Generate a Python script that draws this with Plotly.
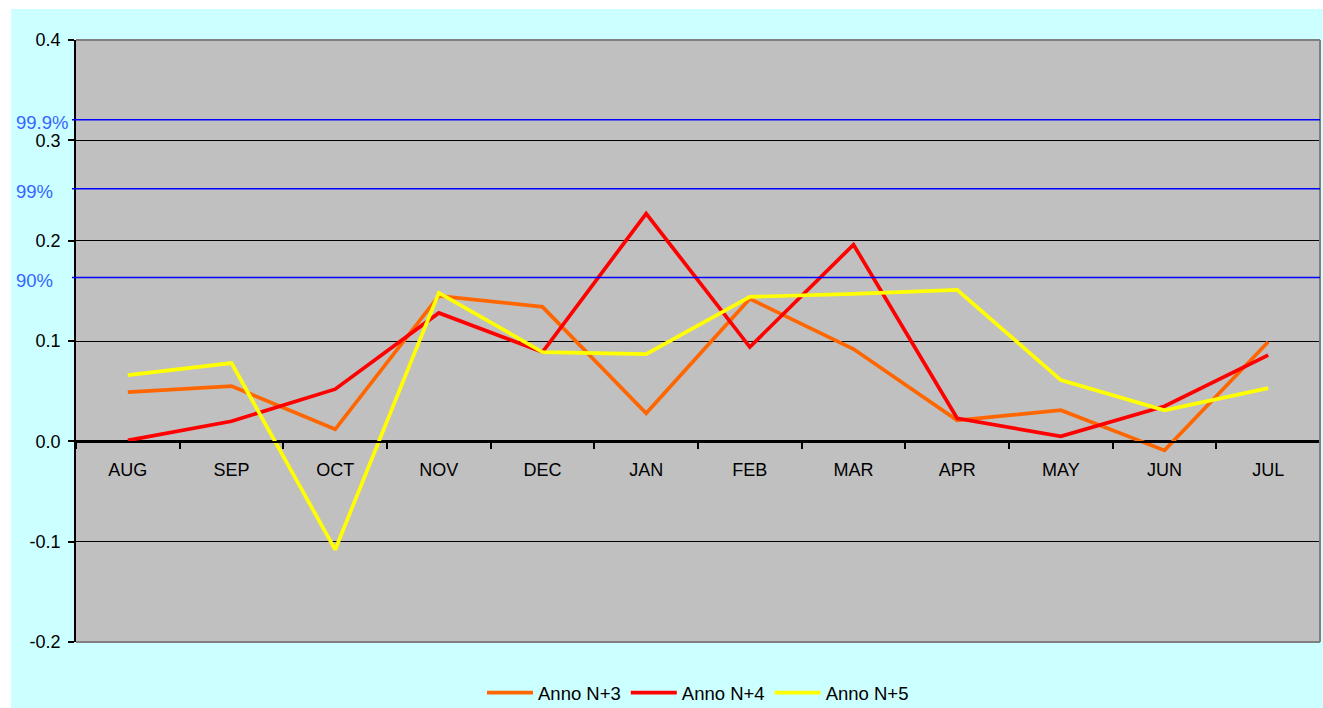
import plotly.graph_objects as go

months = ["AUG", "SEP", "OCT", "NOV", "DEC", "JAN", "FEB", "MAR", "APR", "MAY", "JUN", "JUL"]
anno_n3 = [0.049, 0.055, 0.012, 0.145, 0.134, 0.028, 0.142, 0.092, 0.021, 0.031, -0.009, 0.099]
anno_n4 = [0.001, 0.020, 0.052, 0.128, 0.089, 0.227, 0.094, 0.196, 0.023, 0.005, 0.035, 0.086]
anno_n5 = [0.066, 0.078, -0.108, 0.148, 0.089, 0.087, 0.144, 0.147, 0.151, 0.061, 0.031, 0.053]
series_names = ["Anno N+3", "Anno N+4", "Anno N+5"]
series_colors = ["#FF6600", "#FF0000", "#FFFF00"]

threshold_labels = ["99.9%", "99%", "90%"]
threshold_values = [0.3204, 0.2517, 0.1632]

y_ticks = [-0.2, -0.1, 0.0, 0.1, 0.2, 0.3, 0.4]
y_tick_labels = ["-0.2", "-0.1", "0.0", "0.1", "0.2", "0.3", "0.4"]

W, H = 1323, 708
L, R, T, B = 76, 3, 40, 66
pw, ph = W - L - R, H - T - B

def px_x(p):
    return (p - L) / pw

def px_y(p):
    return (H - B - p) / ph

FONT = "Liberation Sans, Arial, sans-serif"

fig = go.Figure()
for name, vals, col in zip(series_names, [anno_n3, anno_n4, anno_n5], series_colors):
    fig.add_trace(go.Scatter(x=months, y=vals, mode="lines", name=name,
                             line=dict(color=col, width=3.7)))

shapes = [
    # white page margins
    dict(type="rect", xref="paper", yref="paper", x0=px_x(-2), x1=px_x(11), y0=px_y(H + 2), y1=px_y(-2),
         fillcolor="white", line=dict(width=0), layer="below"),
    dict(type="rect", xref="paper", yref="paper", x0=px_x(-2), x1=px_x(W + 2), y0=px_y(9), y1=px_y(-2),
         fillcolor="white", line=dict(width=0), layer="below"),
]
# plot border (top, right, bottom)
for (x0, y0, x1, y1) in [(0, 1, 1, 1), (1, 0, 1, 1), (0, 0, 1, 0)]:
    shapes.append(dict(type="line", xref="paper", yref="paper", x0=x0, y0=y0, x1=x1, y1=y1,
                       line=dict(color="#7F7F7F", width=2), layer="above"))
# threshold lines
for v in threshold_values:
    shapes.append(dict(type="line", xref="paper", yref="y", x0=px_x(72), x1=1, y0=v, y1=v,
                       line=dict(color="#0000FF", width=1.5), layer="above"))

annotations = []
for lab, v in zip(threshold_labels, threshold_values):
    annotations.append(dict(xref="paper", yref="y", x=px_x(14), y=v, text=lab, showarrow=False,
                            xanchor="left", yanchor="middle", yshift=-3,
                            font=dict(family=FONT, size=18.5, color="#3366FF")))

fig.update_layout(
    width=W, height=H,
    margin=dict(l=L, r=R, t=T, b=B, pad=0, autoexpand=False),
    paper_bgcolor="#CCFFFF",
    plot_bgcolor="#C0C0C0",
    font=dict(family=FONT, size=18, color="black"),
    shapes=shapes,
    annotations=annotations,
    showlegend=True,
    legend=dict(orientation="h", x=0.5, xanchor="center", y=px_y(693), yanchor="middle",
                bgcolor="rgba(0,0,0,0)", font=dict(family=FONT, size=18.5), itemwidth=46,
                traceorder="normal"),
    xaxis=dict(type="category", anchor="free", position=px_y(442), showgrid=False,
               showline=True, linecolor="black", linewidth=1.5, ticks="outside",
               tickson="boundaries", ticklen=6, tickcolor="black", tickwidth=1.5,
               zeroline=False, ticklabelstandoff=12, range=[-0.5, 11.5],
               tickfont=dict(family=FONT, size=18)),
    yaxis=dict(range=[-0.2, 0.4], tickvals=y_ticks, ticktext=y_tick_labels, showgrid=True,
               gridcolor="black", gridwidth=1, zeroline=True, zerolinecolor="black",
               zerolinewidth=1.5, showline=True, linecolor="black", linewidth=1.5,
               ticks="outside", ticklen=6, tickcolor="black", tickwidth=1.5,
               ticklabelstandoff=4, tickfont=dict(family=FONT, size=18)),
)

fig.write_html("out.html")
